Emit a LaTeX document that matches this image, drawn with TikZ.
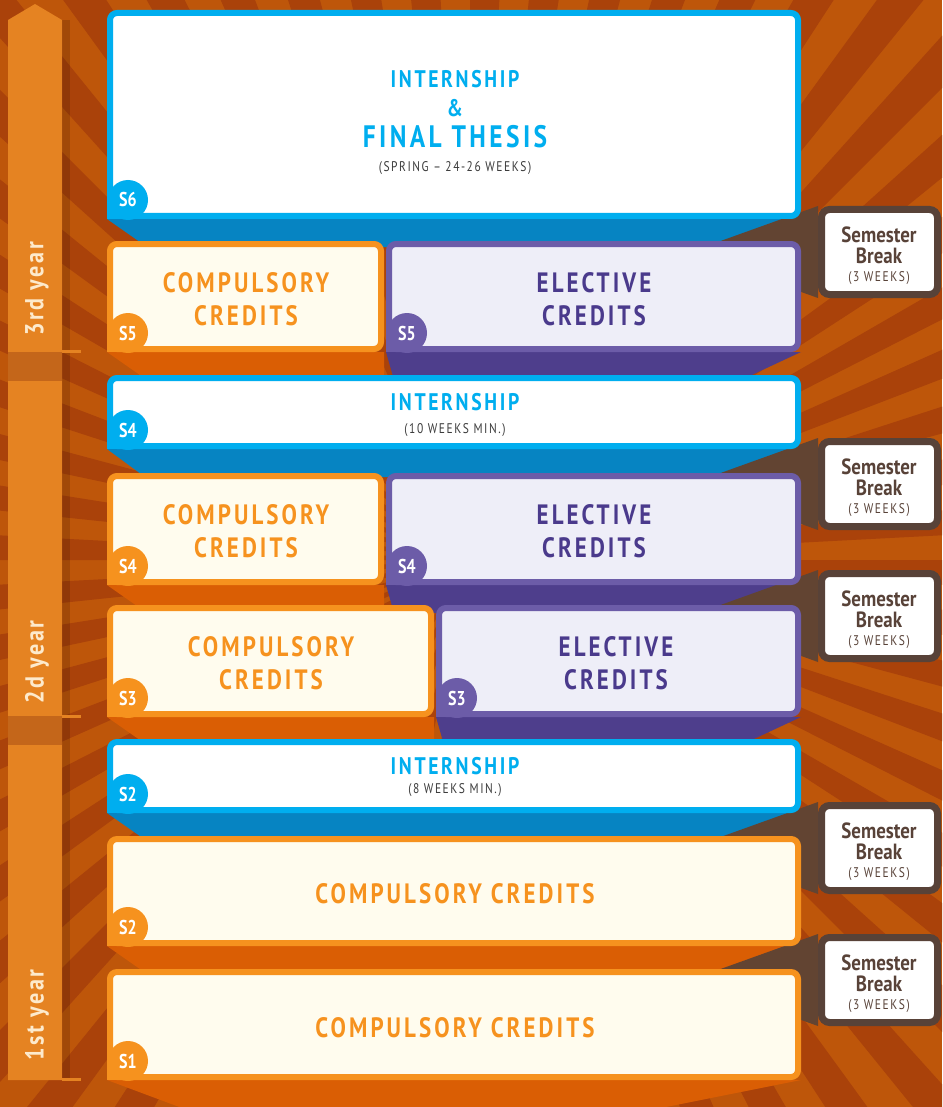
\documentclass[tikz,border=0pt]{standalone}
\usepackage{fontspec}
\setmainfont{PT Sans}
\newfontfamily\capsfont[FakeStretch=0.82,LetterSpace=11]{PT Sans}
\newfontfamily\condfont[FakeStretch=0.80]{PT Sans}
\newfontfamily\brkfont[FakeStretch=0.86]{PT Sans}
\newfontfamily\yearfont[FakeStretch=0.85,LetterSpace=10]{PT Sans}
\usetikzlibrary{backgrounds}
\definecolor{bgorange}{RGB}{190,86,10}
\definecolor{bgray}{RGB}{170,66,10}
\definecolor{yearbar}{RGB}{229,131,34}
\definecolor{yearband}{RGB}{196,102,26}
\definecolor{yeartext}{RGB}{253,234,204}
\definecolor{sblue}{RGB}{0,174,239}
\definecolor{sbluedark}{RGB}{6,132,194}
\definecolor{sorange}{RGB}{246,146,30}
\definecolor{sorangedark}{RGB}{218,94,4}
\definecolor{cream}{RGB}{255,252,238}
\definecolor{spurple}{RGB}{108,92,168}
\definecolor{spurpledark}{RGB}{78,62,140}
\definecolor{lilac}{RGB}{238,238,248}
\definecolor{purpletext}{RGB}{74,58,140}
\definecolor{brkbrown}{RGB}{88,66,56}
\definecolor{brkside}{RGB}{98,68,50}
\definecolor{notegray}{RGB}{60,60,60}
\begin{document}
\begin{tikzpicture}[x=1pt,y=-1pt,inner sep=0pt,outer sep=0pt,
panel/.style={draw,rectangle,rounded corners=7pt,line width=6pt,outer sep=3pt},
bluepanel/.style={panel,draw=sblue,fill=white},
orangepanel/.style={panel,draw=sorange,fill=cream},
purplepanel/.style={panel,draw=spurple,fill=lilac},
breakbox/.style={draw=brkbrown,fill=white,rectangle,rounded corners=8pt,line width=7pt,outer sep=3.5pt,minimum width=116pt,minimum height=85pt},
badge/.style={circle,minimum size=40pt,text=white,font=\condfont\bfseries\fontsize{20}{20}\selectfont},
bigcaps/.style={align=center,font=\capsfont\bfseries\fontsize{28}{33}\selectfont},
bluecaps/.style={anchor=base,text=sblue,font=\capsfont\bfseries\fontsize{24}{24}\selectfont},
note/.style={anchor=base,text=notegray,font=\capsfont\fontsize{14}{14}\selectfont},
brktxt/.style={anchor=base,text=brkbrown,font=\brkfont\bfseries\fontsize{22}{22}\selectfont},
yearlabel/.style={rotate=90,text=yeartext,font=\yearfont\bfseries\fontsize{26}{26}\selectfont}]
\useasboundingbox (0,0) rectangle (942,1107);
\begin{scope}[on background layer]
\fill[bgorange] (0,0) rectangle (942,1107);
\clip (0,0) rectangle (942,1107);
\foreach \a in {0,6,...,354}
  \fill[bgray] (470,560) -- +(\a:1600) -- +(\a+3:1600) -- cycle;
\fill[yearbar] (8,20) -- (35,4) -- (62,20) -- (62,1080) -- (8,1080) -- cycle;
\fill[black,opacity=.15] (62,20) rectangle (70,1080);
\fill[yearband] (8,352) rectangle (62,381);
\fill[yearband] (8,716) rectangle (62,745);
\draw[yearbar,line width=3pt] (62,351) -- (81,351) (62,716) -- (81,716) (62,1079) -- (81,1079);
\end{scope}
\node[yearlabel] (y3) at (37,289) {3rd year};
\node[yearlabel] (y2) at (37,662) {2d year};
\node[yearlabel] (y1) at (37,1015) {1st year};

\node[bluepanel,minimum width=688pt,minimum height=203pt] (s6) at (454,114.5) {};
\node[orangepanel,minimum width=271pt,minimum height=105pt] (c5) at (245.5,296.5) {};
\node[purplepanel,minimum width=409pt,minimum height=105pt] (e5) at (593.5,296.5) {};
\node[bluepanel,minimum width=688pt,minimum height=68pt] (i4) at (454,412) {};
\node[orangepanel,minimum width=271pt,minimum height=106pt] (c4) at (245.5,529) {};
\node[purplepanel,minimum width=409pt,minimum height=106pt] (e4) at (593.5,529) {};
\node[orangepanel,minimum width=321pt,minimum height=106pt] (c3) at (270.5,661) {};
\node[purplepanel,minimum width=359pt,minimum height=106pt] (e3) at (618.5,661) {};
\node[bluepanel,minimum width=688pt,minimum height=68pt] (i2) at (454,776) {};
\node[orangepanel,minimum width=688pt,minimum height=104pt] (c2) at (454,891) {};
\node[orangepanel,minimum width=688pt,minimum height=105pt] (c1) at (454,1024.5) {};

\foreach \p/\c in {s6/sblue,c5/sorange,e5/spurple,i4/sblue,c4/sorange,e4/spurple,c3/sorange,e3/spurple,i2/sblue,c2/sorange,c1/sorange}
  \fill[\c] (\p.south west) rectangle ++(14,-14);
\node[badge,fill=sblue] (s6b) at ([shift={(21,-19)}]s6.south west) {S6};
\node[badge,fill=sorange] (c5b) at ([shift={(21,-19)}]c5.south west) {S5};
\node[badge,fill=spurple] (e5b) at ([shift={(21,-19)}]e5.south west) {S5};
\node[badge,fill=sblue] (i4b) at ([shift={(21,-19)}]i4.south west) {S4};
\node[badge,fill=sorange] (c4b) at ([shift={(21,-19)}]c4.south west) {S4};
\node[badge,fill=spurple] (e4b) at ([shift={(21,-19)}]e4.south west) {S4};
\node[badge,fill=sorange] (c3b) at ([shift={(21,-19)}]c3.south west) {S3};
\node[badge,fill=spurple] (e3b) at ([shift={(21,-19)}]e3.south west) {S3};
\node[badge,fill=sblue] (i2b) at ([shift={(21,-19)}]i2.south west) {S2};
\node[badge,fill=sorange] (c2b) at ([shift={(21,-19)}]c2.south west) {S2};
\node[badge,fill=sorange] (c1b) at ([shift={(21,-19)}]c1.south west) {S1};

\node[bluecaps] (s6t1) at (455,88) {INTERNSHIP};
\node[bluecaps] (s6t2) at (455,117) {\&};
\node[bluecaps,font=\capsfont\bfseries\fontsize{31}{31}\selectfont] (s6t3) at (455,148) {FINAL THESIS};
\node[note] (s6t4) at (455,172) {(SPRING – 24-26 WEEKS)};
\node[bigcaps,text=sorange] (c5t) at (246,299.5) {COMPULSORY\\CREDITS};
\node[bigcaps,text=purpletext] (e5t) at (594,299.5) {ELECTIVE\\CREDITS};
\node[bluecaps] (i4t1) at (455,410) {INTERNSHIP};
\node[note] (i4t2) at (455,433) {(10 WEEKS MIN.)};
\node[bigcaps,text=sorange] (c4t) at (246,531.5) {COMPULSORY\\CREDITS};
\node[bigcaps,text=purpletext] (e4t) at (594,531.5) {ELECTIVE\\CREDITS};
\node[bigcaps,text=sorange] (c3t) at (271,663.5) {COMPULSORY\\CREDITS};
\node[bigcaps,text=purpletext] (e3t) at (616,663.5) {ELECTIVE\\CREDITS};
\node[bluecaps] (i2t1) at (455,774) {INTERNSHIP};
\node[note] (i2t2) at (455,793) {(8 WEEKS MIN.)};
\node[bigcaps,text=sorange,anchor=base] (c2t) at (455,903) {COMPULSORY CREDITS};
\node[bigcaps,text=sorange,anchor=base] (c1t) at (455,1037) {COMPULSORY CREDITS};

\foreach \t [count=\i] in {206,438,570,802,934} {
  \node[breakbox] (b\i) at (879.5,\t+46) {};
  \node[brktxt] (b\i s) at (879,\t+36) {Semester};
  \node[brktxt] (b\i b) at (879,\t+57) {Break};
  \node[note,text=brkbrown] (b\i w) at (879,\t+75) {(3 WEEKS)};
}

\begin{scope}[on background layer]
\foreach \p/\c/\l/\r in {s6/sbluedark/40/60,c5/sorangedark/40/0,e5/spurpledark/8/60,i4/sbluedark/38/60,c4/sorangedark/40/0,e4/spurpledark/8/60,c3/sorangedark/40/0,e3/spurpledark/8/60,i2/sbluedark/40/60,c2/sorangedark/40/60,c1/sorangedark/75/140}
  \fill[\c] (\p.south west) -- (\p.south east) -- ([shift={(-\r,28)}]\p.south east) -- ([shift={(\l,28)}]\p.south west) -- cycle;
\foreach \i in {1,...,5}
  \fill[brkside] (b\i.north west) -- ([xshift=-128pt]b\i.west) -- (b\i.south west) -- cycle;
\end{scope}
\end{tikzpicture}
\end{document}
